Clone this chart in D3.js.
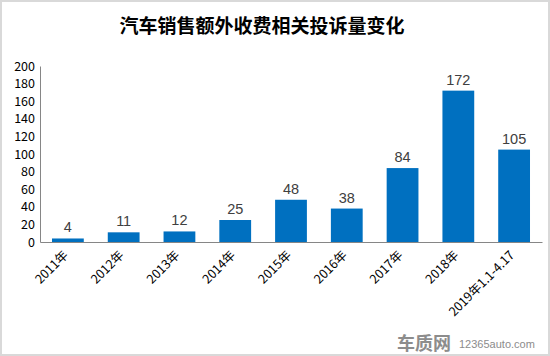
<!DOCTYPE html>
<html><head><meta charset="utf-8">
<script src="https://cdn.jsdelivr.net/npm/d3@7"></script>
<style>body{margin:0;background:#fff}svg{display:block}</style>
</head><body>
<script>
const categories = ["2011年","2012年","2013年","2014年","2015年","2016年","2017年","2018年","2019年1.1-4.17"];
const values = [4,11,12,25,48,38,84,172,105];
const yTicks = [0,20,40,60,80,100,120,140,160,180,200];
const title = "汽车销售额外收费相关投诉量变化";

const W=550,H=356;
const svg=d3.select("body").append("svg").attr("width",W).attr("height",H);
svg.append("rect").attr("x",1).attr("y",1).attr("width",W-2).attr("height",H-2)
  .attr("fill","#fff").attr("stroke","#d9d9d9").attr("stroke-width",2);

const font='"Microsoft YaHei","Noto Sans CJK SC",sans-serif';
const m={left:40,right:542,top:66,bottom:242};
const x=d3.scaleBand().domain(categories).range([m.left,m.right]).paddingInner(0.43).paddingOuter(0.215);
const y=d3.scaleLinear().domain([0,200]).range([m.bottom,m.top]);

svg.append("text").attr("x",262).attr("y",33).attr("text-anchor","middle")
  .attr("font-family",font).attr("font-weight","bold").attr("font-size",19).attr("fill","#000").text(title);

const yAxis=svg.append("g").attr("transform",`translate(${m.left},0)`)
  .call(d3.axisLeft(y).tickValues(yTicks).tickSize(0).tickPadding(5));
yAxis.select(".domain").attr("stroke","#868686");
yAxis.selectAll("text").attr("font-family",font).attr("font-size",12.5).attr("fill","#000");

svg.selectAll("rect.bar").data(values).enter().append("rect").attr("class","bar")
  .attr("x",(d,i)=>x(categories[i])).attr("width",x.bandwidth())
  .attr("y",d=>y(d)).attr("height",d=>y(0)-y(d)).attr("fill","#0070c0");

svg.selectAll("text.lbl").data(values).enter().append("text").attr("class","lbl")
  .attr("x",(d,i)=>x(categories[i])+x.bandwidth()/2).attr("y",d=>y(d)-6)
  .attr("text-anchor","middle").attr("font-family","'Liberation Sans',Arial,sans-serif").attr("font-size",14.5).attr("fill","#404040").text(d=>d);

const xAxis=svg.append("g").attr("transform",`translate(0,${m.bottom})`)
  .call(d3.axisBottom(x).tickSize(0).tickPadding(0).tickSizeOuter(0));
xAxis.select(".domain").attr("stroke","#868686");
xAxis.selectAll("text").attr("font-family",font).attr("font-size",12.5).attr("fill","#000")
  .attr("text-anchor","end").attr("dy",0)
  .attr("transform","translate(1,14) rotate(-45)");

const wm=svg.append("g");
wm.append("text").attr("x",397).attr("y",350).attr("font-family",font).attr("font-weight","bold")
  .attr("font-size",18).attr("fill","#8c8c8c").text("车质网");
wm.append("text").attr("x",459).attr("y",348).attr("font-family","Arial,sans-serif")
  .attr("font-size",11).attr("fill","#8c8c8c").text("12365auto.com");
</script>
</body></html>
